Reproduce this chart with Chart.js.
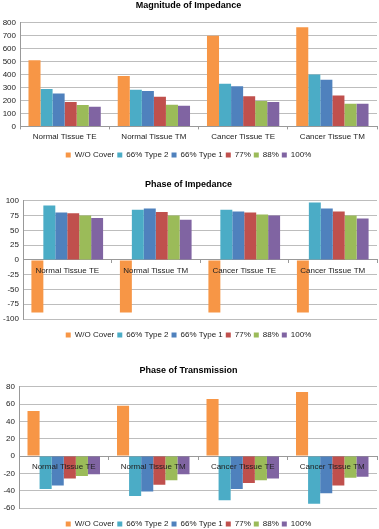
<!DOCTYPE html>
<html>
<head>
<meta charset="utf-8">
<script src="https://cdn.jsdelivr.net/npm/chart.js@4"></script>
<style>
  html, body { margin: 0; padding: 0; background: #fff; overflow: hidden; }
  .box { position: absolute; left: 0; width: 379px; }
</style>
</head>
<body>
<div class="box" style="top:0;height:175px"><canvas id="magChart"></canvas></div>
<div class="box" style="top:175px;height:180px"><canvas id="phaseChart"></canvas></div>
<div class="box" style="top:355px;height:185px"><canvas id="transChart"></canvas></div>
<script>
// -------------------------
// Data
// -------------------------
const categories = ['Normal Tissue TE', 'Normal Tissue TM', 'Cancer Tissue TE', 'Cancer Tissue TM'];
const seriesNames = ['W/O Cover', '66% Type 2', '66% Type 1', '77%', '88%', '100%'];
const seriesColors = ['#F79646', '#4BACC6', '#4F81BD', '#C0504D', '#9BBB59', '#8064A2'];

// one row per series, one value per category
const magnitudeValues = [
    [510, 390, 700, 765],
    [288, 283, 330, 400],
    [255, 273, 310, 360],
    [188, 228, 233, 238],
    [165, 168, 197, 175],
    [152, 160, 188, 175]
];
const phaseImpValues = [
    [-89, -89, -89, -89],
    [92, 85, 85, 97],
    [80, 87, 82, 87],
    [79, 81, 80, 82],
    [75, 75, 77, 75],
    [71, 68, 75, 70]
];
const phaseTransValues = [
    [52, 58, 66, 74],
    [-38, -46, -51, -55],
    [-34, -41, -38, -43],
    [-26, -33, -31, -34],
    [-23, -28, -28, -25],
    [-21, -21, -26, -24]
];

// -------------------------
// Chart builder
// -------------------------
const fontFamily = "'Liberation Sans', 'DejaVu Sans', sans-serif";
const gridColor = '#BDBDBD';

function makeChart(id, title, values, yMin, yMax, step, opt) {
    const datasets = seriesNames.map((name, i) => ({
        label: name,
        data: values[i],
        backgroundColor: seriesColors[i],
        borderWidth: 0,
        barPercentage: 1.0,
        categoryPercentage: 0.81
    }));

    const scales = {
        x: {
            position: opt.zeroAxis ? { y: 0 } : 'bottom',
            offset: true,
            grid: {
                offset: true,
                drawOnChartArea: false,
                drawTicks: true,
                tickLength: 3,
                color: '#999'
            },
            border: { color: '#999' },
            ticks: {
                z: 1, // labels on top of the bars, like Excel
                color: '#222',
                font: { family: fontFamily, size: 8 },
                padding: 3,
                maxRotation: 0,
                autoSkip: false
            }
        },
        y: {
            min: yMin,
            max: yMax,
            afterFit: (scale) => { scale.width = opt.axisX; },
            grid: { color: gridColor, drawTicks: false },
            border: { color: '#999' },
            ticks: {
                stepSize: step,
                autoSkip: false,
                color: '#222',
                font: { family: fontFamily, size: 8 },
                padding: 4
            }
        },
        // empty spacer between the plot and the legend
        gap: {
            type: 'category',
            position: 'bottom',
            grid: { display: false },
            border: { display: false },
            ticks: { display: false },
            afterFit: (scale) => { scale.height = opt.gap; }
        }
    };

    return new Chart(document.getElementById(id).getContext('2d'), {
        type: 'bar',
        data: { labels: categories, datasets },
        options: {
            responsive: true,
            maintainAspectRatio: false,
            animation: false,
            layout: { padding: { left: 0, right: 2, top: 0, bottom: opt.bottomPad } },
            plugins: {
                title: {
                    display: true,
                    text: title,
                    color: '#000',
                    font: { family: fontFamily, size: 9, weight: 'bold' },
                    padding: { top: opt.titleTop, bottom: opt.titleBottom }
                },
                legend: {
                    position: 'bottom',
                    labels: {
                        color: '#222',
                        font: { family: fontFamily, size: 8 },
                        boxWidth: 5,
                        boxHeight: 5,
                        padding: 3
                    }
                },
                tooltip: { enabled: false }
            },
            scales
        }
    });
}

makeChart('magChart', 'Magnitude of Impedance', magnitudeValues, 0, 800, 100,
    { axisX: 20, zeroAxis: false, gap: 3, titleTop: 0, titleBottom: 12, bottomPad: 6 });
makeChart('phaseChart', 'Phase of Impedance', phaseImpValues, -100, 100, 25,
    { axisX: 23, zeroAxis: true, gap: 9, titleTop: 4, titleBottom: 11, bottomPad: 6 });
makeChart('transChart', 'Phase of Transmission', phaseTransValues, -60, 80, 20,
    { axisX: 19, zeroAxis: true, gap: 9, titleTop: 10, titleBottom: 11, bottomPad: 2 });
</script>
</body>
</html>
